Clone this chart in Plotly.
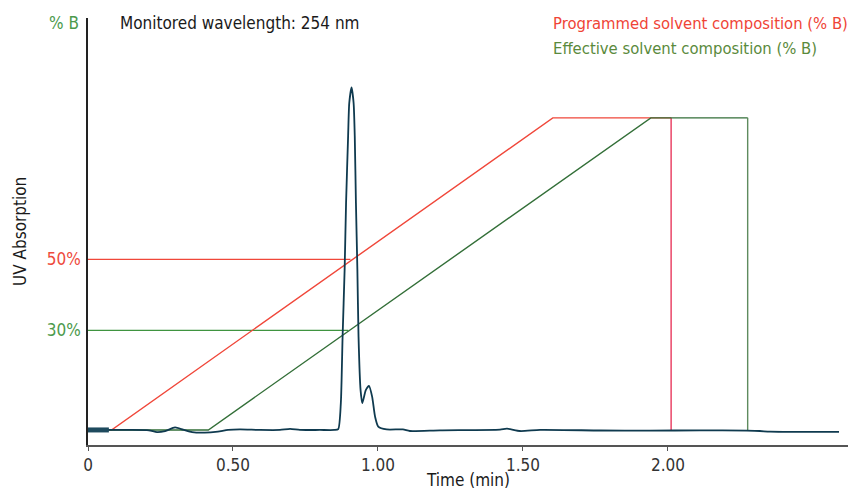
import plotly.graph_objects as go

# ---------------- data ----------------
time_chrom = [0.000, 0.070, 0.140, 0.210, 0.238, 0.266, 0.300, 0.328, 0.359, 0.403,
              0.448, 0.483, 0.524, 0.593, 0.662, 0.697, 0.731, 0.800, 0.850, 0.863,
              0.872, 0.878, 0.885, 0.890, 0.897, 0.901, 0.909, 0.916, 0.920, 0.924,
              0.929, 0.933, 0.940, 0.946, 0.958, 0.969, 0.980, 0.990, 1.001, 1.030,
              1.086, 1.110, 1.214, 1.421, 1.445, 1.490, 1.559, 1.766, 1.938, 2.110,
              2.272, 2.317, 2.352, 2.590]
uv_abs = [1.85, 1.85, 1.85, 1.75, 1.25, 1.55, 2.55, 1.95, 1.25, 1.10,
          1.40, 1.85, 2.00, 1.85, 1.85, 2.15, 1.85, 1.85, 1.85, 2.10,
          9.5, 28.2, 47.0, 66.0, 84.7, 94.2, 98.6, 94.2, 84.7, 66.0,
          47.0, 28.2, 13.1, 9.4, 13.1, 14.3, 11.2, 5.6, 2.8, 2.0,
          2.0, 1.55, 1.75, 1.95, 2.20, 1.55, 1.85, 1.70, 1.65, 1.75,
          1.65, 1.55, 1.35, 1.30]

inject_time = [0.0, 0.072]
inject_abs = [1.85, 1.85]

prog_time = [0.0, 0.081, 1.603, 2.011]
prog_pct = [1.85, 1.85, 90, 90]
prog_drop_time = [2.011, 2.011]
prog_drop_pct = [90, 1.85]

eff_time = [0.0, 0.415, 1.941, 2.275]
eff_pct = [1.85, 1.85, 90, 90]
eff_drop_time = [2.275, 2.275]
eff_drop_pct = [90, 1.85]

ref50_time = [0.0, 0.905]
ref50_pct = [50, 50]
ref30_time = [0.0, 0.898]
ref30_pct = [30, 30]

x_tickvals = [0, 0.5, 1.0, 1.5, 2.0]
x_ticktext = ["0", "0.50", "1.00", "1.50", "2.00"]
y_tickvals = [30, 50]
y_ticktext = ["<span style='color:#4c9a4c'>30%</span>",
              "<span style='color:#ee4a3c'>50%</span>"]

FONT = "Liberation Sans Narrow, DejaVu Sans Condensed, Arial Narrow, sans-serif"
FS = 17
FS_LEG = 16.5
RED = "#f0473a"
RED_DROP = "#e8385c"
GREEN = "#336f38"
GREEN_LIGHT = "#3f9440"
GREEN_DROP = "#5e8b5e"
TEAL = "#0f3a4f"

fig = go.Figure()
fig.add_trace(go.Scatter(x=ref50_time, y=ref50_pct, mode="lines",
                         line=dict(color=RED, width=1.3), hoverinfo="skip"))
fig.add_trace(go.Scatter(x=ref30_time, y=ref30_pct, mode="lines",
                         line=dict(color=GREEN_LIGHT, width=1.3), hoverinfo="skip"))
fig.add_trace(go.Scatter(x=prog_time, y=prog_pct, mode="lines",
                         line=dict(color=RED, width=1.4), name="Programmed"))
fig.add_trace(go.Scatter(x=prog_drop_time, y=prog_drop_pct, mode="lines",
                         line=dict(color=RED_DROP, width=1.4), hoverinfo="skip"))
fig.add_trace(go.Scatter(x=eff_time, y=eff_pct, mode="lines",
                         line=dict(color=GREEN, width=1.4), name="Effective"))
fig.add_trace(go.Scatter(x=eff_drop_time, y=eff_drop_pct, mode="lines",
                         line=dict(color=GREEN_DROP, width=1.4), hoverinfo="skip"))
fig.add_trace(go.Scatter(x=time_chrom, y=uv_abs, mode="lines",
                         line=dict(color=TEAL, width=1.8, shape="spline", smoothing=0.6),
                         name="UV"))
fig.add_trace(go.Scatter(x=inject_time, y=inject_abs, mode="lines",
                         line=dict(color="#1e4a5e", width=5), hoverinfo="skip"))

fig.update_layout(
    width=855, height=491,
    margin=dict(l=88, r=7, t=18, b=46),
    paper_bgcolor="white", plot_bgcolor="white",
    showlegend=False,
    font=dict(family=FONT, size=FS, color="#222"),
    xaxis=dict(range=[0, 2.621], showgrid=False, zeroline=False,
               showline=True, linecolor="#555", linewidth=1.5,
               ticks="outside", ticklen=4, tickcolor="#555", tickwidth=1,
               tickvals=x_tickvals, ticktext=x_ticktext,
               tickfont=dict(family=FONT, size=FS, color="#333")),
    yaxis=dict(range=[-2.4, 118.2], showgrid=False, zeroline=False,
               showline=True, linecolor="#222", linewidth=1.5,
               ticks="", tickvals=y_tickvals, ticktext=y_ticktext,
               ticklabelstandoff=2,
               tickfont=dict(family=FONT, size=FS)),
)

def px(xp):
    return (xp - 88) / 760.0

def py(yp):
    return (445 - yp) / 427.0

ann = [
    dict(text="% B", x=px(81), y=py(23), xanchor="right", yanchor="middle",
         font=dict(color="#4c9a4c", size=FS)),
    dict(text="Monitored wavelength: 254 nm", x=px(118), y=py(23), xanchor="left",
         yanchor="middle", font=dict(color="#1a1a1a", size=FS)),
    dict(text="Programmed solvent composition (% B)", x=px(551), y=py(23.5),
         xanchor="left", yanchor="middle", font=dict(color="#ef4436", size=FS_LEG)),
    dict(text="Effective solvent composition (% B)", x=px(551), y=py(48.5),
         xanchor="left", yanchor="middle", font=dict(color="#5a8a3c", size=FS_LEG)),
    dict(text="UV Absorption", x=px(20), y=py(232), textangle=-90,
         xanchor="center", yanchor="middle", font=dict(color="#1a1a1a", size=FS)),
    dict(text="Time (min)", x=px(468), y=py(480), xanchor="center",
         yanchor="middle", font=dict(color="#1a1a1a", size=FS)),
]
for a in ann:
    a.update(xref="paper", yref="paper", showarrow=False)
fig.update_layout(annotations=ann)

fig.write_html("out.html")
